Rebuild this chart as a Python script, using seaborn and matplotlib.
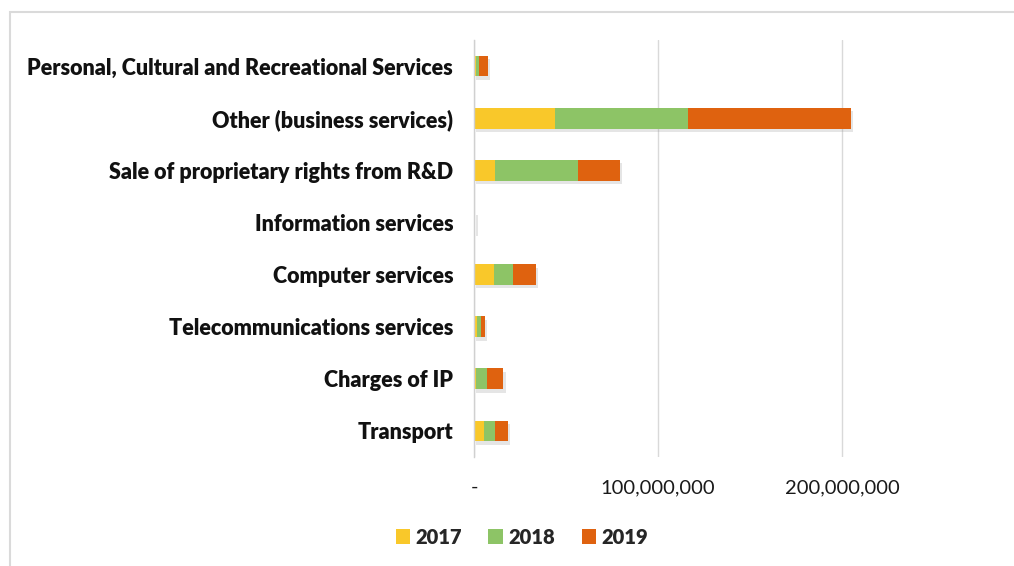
import matplotlib
matplotlib.use("Agg")
import matplotlib.pyplot as plt
import matplotlib.patheffects as pe
from matplotlib.patches import Rectangle, Patch
import numpy as np
import pandas as pd
import seaborn as sns

categories = [
    "Personal, Cultural and Recreational Services",
    "Other (business services)",
    "Sale of proprietary rights from R&D",
    "Information services",
    "Computer services",
    "Telecommunications services",
    "Charges of IP",
    "Transport",
]
v2017 = [1.0e6, 44.0e6, 11.6e6, 0.2e6, 10.7e6, 1.6e6, 1.1e6, 5.2e6]
v2018 = [1.8e6, 72.4e6, 44.7e6, 0.3e6, 10.3e6, 2.4e6, 6.2e6, 6.3e6]
v2019 = [4.7e6, 88.7e6, 23.2e6, 0.3e6, 12.9e6, 2.0e6, 8.7e6, 6.9e6]
years = ["2017", "2018", "2019"]
colors = ["#F9C82A", "#8DC466", "#DF620F"]
xticks = [0, 100_000_000, 200_000_000]
xticklabels = ["-", "100,000,000", "200,000,000"]

df = pd.DataFrame({"category": categories, "2017": v2017, "2018": v2018, "2019": v2019})
df["c1"] = df["2017"]
df["c2"] = df["2017"] + df["2018"]
df["c3"] = df["c2"] + df["2019"]

sns.set_theme(style="white")
plt.rcParams["font.family"] = ["Lato", "DejaVu Sans"]

fig = plt.figure(figsize=(10.14, 5.66), dpi=100)
# outer chart frame
fig.patches.append(Rectangle((10 / 1014, -0.1), 1.2, (566 - 12) / 566 + 0.1,
                             transform=fig.transFigure, fill=False,
                             edgecolor="#DADADA", linewidth=1.5, zorder=0))

ax = fig.add_axes([474 / 1014, (566 - 457) / 566, (1026 - 474) / 1014, 417 / 566])

shadow = [pe.SimplePatchShadow(offset=(1.5, -2.5), shadow_rgbFace="#999999", alpha=0.25), pe.Normal()]

for col, color, eff in [("c3", colors[2], shadow), ("c2", colors[1], None), ("c1", colors[0], None)]:
    sns.barplot(data=df, x=col, y="category", order=categories, color=color,
                width=0.4, ax=ax, saturation=1, linewidth=0, orient="h")
    if eff is not None:
        for p in ax.patches:
            p.set_path_effects(eff)

ax.set_xlim(0, 300_000_000)
ax.set_ylim(len(categories) - 0.5, -0.5)
ax.set_xticks(xticks)
ax.set_xticklabels(xticklabels, fontsize=14.5, color="#1a1a1a")
ax.tick_params(axis="x", length=0, pad=16)
ax.tick_params(axis="y", length=0, pad=15)
for lab in ax.get_yticklabels():
    lab.set_fontweight("heavy")
    lab.set_fontsize(15.5)
    lab.set_color("#111111")
ax.set_xlabel("")
ax.set_ylabel("")
ax.xaxis.grid(True, color="#D9D9D9", linewidth=1)
ax.set_axisbelow(True)
for s in ["top", "right", "bottom"]:
    ax.spines[s].set_visible(False)
ax.spines["left"].set_color("#D0D0D0")
ax.spines["left"].set_linewidth(1)

handles = [Patch(facecolor=c, edgecolor="none") for c in colors]
leg = fig.legend(handles, years, loc="center", bbox_to_anchor=(522 / 1014, 1 - 537 / 566),
                 ncol=3, frameon=False, handlelength=0.7, handleheight=0.7,
                 handletextpad=0.3, columnspacing=1.3,
                 prop={"weight": "heavy", "size": 14.5, "family": ["Lato", "DejaVu Sans"]})

fig.savefig("out.png", dpi=100)
